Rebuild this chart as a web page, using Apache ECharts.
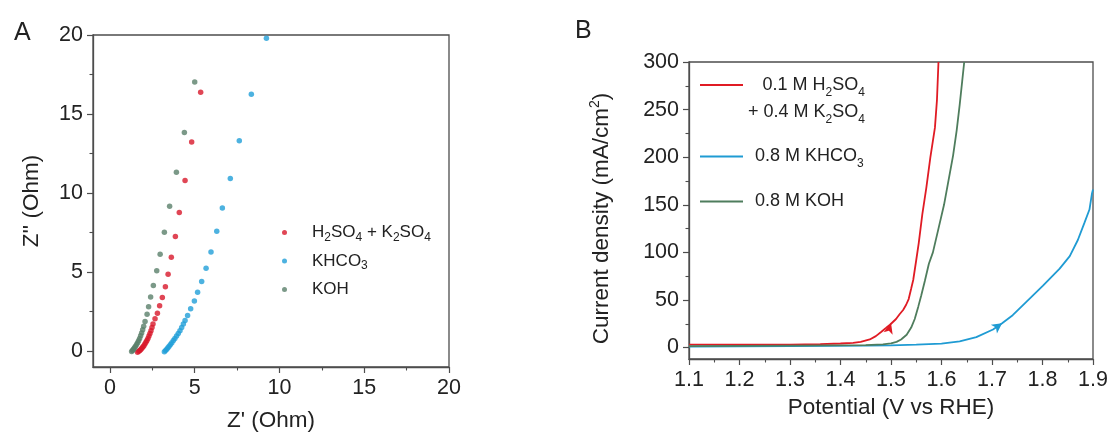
<!DOCTYPE html>
<html>
<head>
<meta charset="utf-8">
<script src="https://cdn.jsdelivr.net/npm/echarts@6/dist/echarts.min.js"></script>
<style>
    html, body { margin: 0; padding: 0; background: #fff; }
    #chart { width: 1112px; height: 437px; }
</style>
</head>
<body>
<div id="chart"></div>
<script>
// panel A: Nyquist plot, [Z', Z''] in Ohm
var nyqAcid = [
    [5.35, 16.38], [4.82, 13.23], [4.43, 10.79], [4.09, 8.78], [3.86, 7.25], [3.62, 5.94],
    [3.43, 4.86], [3.27, 4.08], [3.09, 3.40], [2.93, 2.88], [2.80, 2.40], [2.66, 2.05],
    [2.54, 1.72], [2.48, 1.50], [2.42, 1.30], [2.36, 1.12], [2.30, 0.96], [2.24, 0.81],
    [2.18, 0.68], [2.12, 0.56], [2.06, 0.45], [2.00, 0.35], [1.94, 0.26], [1.88, 0.18],
    [1.82, 0.11], [1.76, 0.05], [1.70, 0.00], [1.63, -0.06]
];
var nyqKhco3 = [
    [9.23, 19.80], [8.34, 16.25], [7.63, 13.31], [7.10, 10.93], [6.63, 9.05], [6.30, 7.58],
    [5.96, 6.27], [5.67, 5.24], [5.41, 4.41], [5.17, 3.73], [4.98, 3.17], [4.76, 2.69],
    [4.58, 2.25], [4.43, 1.94], [4.33, 1.72], [4.23, 1.50], [4.13, 1.30], [4.03, 1.12],
    [3.93, 0.96], [3.83, 0.81], [3.74, 0.67], [3.65, 0.54], [3.57, 0.42], [3.49, 0.31],
    [3.42, 0.21], [3.35, 0.13], [3.28, 0.05], [3.21, -0.03]
];
var nyqKoh = [
    [5.00, 17.02], [4.39, 13.83], [3.92, 11.32], [3.52, 9.17], [3.21, 7.52], [2.96, 6.13],
    [2.76, 5.09], [2.56, 4.16], [2.40, 3.42], [2.28, 2.81], [2.19, 2.34], [2.07, 1.88],
    [1.99, 1.57], [1.93, 1.35], [1.87, 1.15], [1.81, 0.97], [1.75, 0.81], [1.69, 0.66],
    [1.63, 0.53], [1.57, 0.42], [1.51, 0.32], [1.46, 0.23], [1.41, 0.15], [1.37, 0.09],
    [1.33, 0.04], [1.28, -0.02]
];

// panel B: polarisation curves, [V vs RHE, mA/cm2]
var lsvAcid = [
    [1.10, 3.0], [1.20, 3.0], [1.30, 3.2], [1.36, 3.6], [1.40, 4.3], [1.425, 5.0],
    [1.44, 6.0], [1.458, 8.5], [1.47, 12], [1.481, 16.6], [1.49, 20.5], [1.498, 24],
    [1.51, 30], [1.517, 35], [1.524, 39.5], [1.530, 45], [1.535, 51], [1.540, 62],
    [1.544, 71], [1.550, 92], [1.555, 110], [1.562, 140], [1.570, 168], [1.578, 200],
    [1.587, 231], [1.591, 260], [1.594, 300]
];
var lsvKhco3 = [
    [1.10, 1.0], [1.30, 1.5], [1.45, 2.0], [1.50, 2.3], [1.55, 3.0], [1.60, 4.2],
    [1.636, 6.5], [1.669, 11], [1.702, 19], [1.72, 25.5], [1.741, 34], [1.768, 48],
    [1.801, 65], [1.834, 83], [1.854, 96], [1.870, 113], [1.883, 131], [1.893, 145],
    [1.898, 162], [1.90, 166]
];
var lsvKoh = [
    [1.10, 1.5], [1.30, 2.0], [1.45, 2.5], [1.484, 3.4], [1.50, 4.5], [1.511, 6],
    [1.520, 8.5], [1.531, 13.5], [1.540, 21], [1.547, 30], [1.554, 43], [1.560, 55],
    [1.567, 70], [1.575, 88], [1.583, 100], [1.594, 125], [1.605, 150], [1.614, 176],
    [1.623, 202], [1.630, 228], [1.636, 255], [1.641, 280], [1.645, 300]
];
// scan direction arrows
var arrowAcid = [1.5, 26];
var arrowKhco3 = [1.72, 25.5];

var zTicks = [0, 5, 10, 15, 20];
var zMinor = [2.5, 7.5, 12.5, 17.5];
var vTicks = [1.1, 1.2, 1.3, 1.4, 1.5, 1.6, 1.7, 1.8, 1.9];
var vMinor = [1.15, 1.25, 1.35, 1.45, 1.55, 1.65, 1.75, 1.85];
var jTicks = [0, 50, 100, 150, 200, 250, 300];
var jMinor = [25, 75, 125, 175, 225, 275];

var namesA = ['H2SO4 + K2SO4', 'KHCO3', 'KOH'];
var namesB = ['0.1 M H2SO4 + 0.4 M K2SO4', '0.8 M KHCO3', '0.8 M KOH'];

var red = '#d8182a', blue = '#219fd8', green = '#5a806a';
var lineRed = '#e01b24', lineBlue = '#1f9bd3', lineGreen = '#4f7d5d';
var font = 'Liberation Sans, Arial, sans-serif';
var ink = '#222';
var axisColor = '#4d4d4d';

var chart = echarts.init(document.getElementById('chart'));

function axis(gridIndex, min, max, ticks, opt) {
    var a = {
        type: 'value', gridIndex: gridIndex, min: min, max: max,
        splitLine: { show: false },
        axisLine: { show: true, onZero: false, lineStyle: { color: axisColor, width: 1.3 } },
        axisTick: { show: true, length: 6, customValues: ticks, lineStyle: { color: axisColor, width: 1.2 } },
        axisLabel: { customValues: ticks, color: ink, fontSize: 21.5, fontFamily: font, margin: 10 },
        nameLocation: 'middle',
        nameTextStyle: { color: ink, fontSize: 22.5, fontFamily: font }
    };
    return Object.assign(a, opt || {});
}

// second, invisible axis that only carries the short minor ticks
function minorAxis(gridIndex, min, max, ticks, pos) {
    return {
        type: 'value', gridIndex: gridIndex, min: min, max: max, position: pos,
        splitLine: { show: false },
        axisLine: { show: false, onZero: false },
        axisTick: { show: true, length: 3.5, customValues: ticks, lineStyle: { color: axisColor, width: 1.1 } },
        axisLabel: { show: false }
    };
}

var richA = {
    a: { fontSize: 17, lineHeight: 22, color: ink, fontFamily: font },
    s: { fontSize: 12, lineHeight: 9, verticalAlign: 'bottom', color: ink, fontFamily: font }
};
var richB = {
    a: { fontSize: 18, lineHeight: 27, color: ink, fontFamily: font },
    s: { fontSize: 12, lineHeight: 10, verticalAlign: 'bottom', color: ink, fontFamily: font },
    ar: { fontSize: 18, lineHeight: 27, color: ink, fontFamily: font, align: 'right' },
    sr: { fontSize: 12, lineHeight: 10, verticalAlign: 'bottom', color: ink, fontFamily: font, align: 'right' }
};

function legendTextA(name) {
    if (name === namesA[0]) return '{a|H}{s|2}{a|SO}{s|4}{a| + K}{s|2}{a|SO}{s|4}';
    if (name === namesA[1]) return '{a|KHCO}{s|3}';
    return '{a|KOH}';
}
function legendTextB(name) {
    if (name === namesB[0]) return '{ar|0.1 M H}{sr|2}{ar|SO}{sr|4}\n{a|+ 0.4 M K}{s|2}{a|SO}{s|4}';
    if (name === namesB[1]) return '{a|0.8 M KHCO}{s|3}';
    return '{a|0.8 M KOH}';
}

var option = {
    backgroundColor: '#fff',
    animation: false,
    title: [
        { text: 'A', left: 9, top: 16, textStyle: { fontSize: 25, fontWeight: 'normal', color: ink, fontFamily: font } },
        { text: 'B', left: 570, top: 14, textStyle: { fontSize: 25, fontWeight: 'normal', color: ink, fontFamily: font } }
    ],
    grid: [
        { left: 93, top: 35, width: 356, height: 338, show: true, borderColor: axisColor, borderWidth: 1.3 },
        { left: 689, top: 62, width: 404, height: 297, show: true, borderColor: axisColor, borderWidth: 1.3 }
    ],
    legend: [
        {
            data: namesA, orient: 'vertical', left: 282, top: 224, padding: 0,
            icon: 'circle', itemWidth: 5, itemHeight: 5, itemGap: 9,
            formatter: legendTextA,
            textStyle: { padding: [0, 0, 0, 20], rich: richA }
        },
        {
            data: [namesB[0]], left: 700, top: 76, padding: 0,
            icon: 'rect', itemWidth: 43, itemHeight: 2,
            formatter: legendTextB,
            textStyle: { padding: [27, 0, 0, 0], rich: richB }
        },
        {
            data: [namesB[1]], left: 700, top: 147.5, padding: 0,
            icon: 'rect', itemWidth: 43, itemHeight: 2,
            formatter: legendTextB,
            textStyle: { padding: [0, 0, 0, 7], rich: richB }
        },
        {
            data: [namesB[2]], left: 700, top: 192.5, padding: 0,
            icon: 'rect', itemWidth: 43, itemHeight: 2,
            formatter: legendTextB,
            textStyle: { padding: [0, 0, 0, 7], rich: richB }
        }
    ],
    xAxis: [
        axis(0, -1, 20, zTicks, { name: "Z' (Ohm)", nameGap: 42, position: 'bottom' }),
        minorAxis(0, -1, 20, zMinor, 'bottom'),
        axis(1, 1.1, 1.9, vTicks, {
            name: 'Potential (V vs RHE)', nameGap: 36, position: 'bottom',
            axisLabel: { customValues: vTicks, color: ink, fontSize: 21.5, fontFamily: font, margin: 10,
                formatter: function (v) { return v.toFixed(1); } }
        }),
        minorAxis(1, 1.1, 1.9, vMinor, 'bottom')
    ],
    yAxis: [
        axis(0, -1, 20, zTicks, { name: "Z'' (Ohm)", nameGap: 50, position: 'left' }),
        minorAxis(0, -1, 20, zMinor, 'left'),
        axis(1, -12, 300, jTicks, {
            name: 'Current density (mA/cm{sup|2})', nameGap: 74, position: 'left',
            nameTextStyle: { color: ink, fontSize: 22.5, fontFamily: font, lineHeight: 27, padding: [0, 16, 0, 0],
                rich: { sup: { fontSize: 14, lineHeight: 10, verticalAlign: 'top', color: ink, fontFamily: font } } }
        }),
        minorAxis(1, -12, 300, jMinor, 'left')
    ],
    series: [
        { name: namesA[0], type: 'scatter', xAxisIndex: 0, yAxisIndex: 0, data: nyqAcid, symbolSize: 5.5, itemStyle: { color: red } },
        { name: namesA[1], type: 'scatter', xAxisIndex: 0, yAxisIndex: 0, data: nyqKhco3, symbolSize: 5.5, itemStyle: { color: blue } },
        { name: namesA[2], type: 'scatter', xAxisIndex: 0, yAxisIndex: 0, data: nyqKoh, symbolSize: 5.5, itemStyle: { color: green } },
        {
            name: namesB[0], type: 'line', xAxisIndex: 2, yAxisIndex: 2, data: lsvAcid, showSymbol: false,
            lineStyle: { color: lineRed, width: 1.8 }, itemStyle: { color: lineRed },
            markPoint: { symbol: 'arrow', symbolSize: [7, 11], symbolRotate: -15, label: { show: false },
                itemStyle: { color: lineRed }, data: [{ coord: arrowAcid }] }
        },
        {
            name: namesB[1], type: 'line', xAxisIndex: 2, yAxisIndex: 2, data: lsvKhco3, showSymbol: false,
            lineStyle: { color: lineBlue, width: 1.8 }, itemStyle: { color: lineBlue },
            markPoint: { symbol: 'arrow', symbolSize: [8, 10], symbolRotate: -55, label: { show: false },
                itemStyle: { color: lineBlue }, data: [{ coord: arrowKhco3 }] }
        },
        {
            name: namesB[2], type: 'line', xAxisIndex: 2, yAxisIndex: 2, data: lsvKoh, showSymbol: false,
            lineStyle: { color: lineGreen, width: 1.8 }, itemStyle: { color: lineGreen }
        }
    ]
};

chart.setOption(option);
</script>
</body>
</html>
